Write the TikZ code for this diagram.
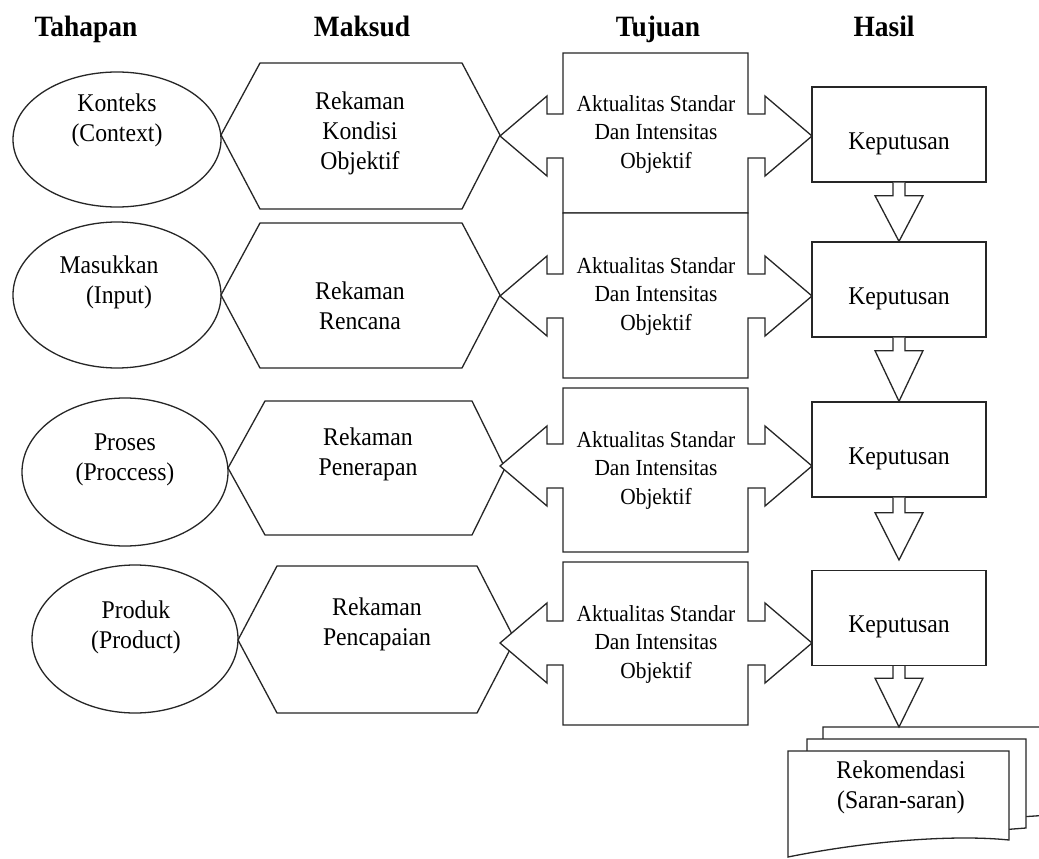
\documentclass[tikz,border=0pt]{standalone}
\usepackage{fontspec}
\setmainfont{Liberation Serif}[FakeStretch=0.93]
\usetikzlibrary{calc,shapes.geometric}
\newcommand{\tujshape}[5]{% top, bottom, centre y, name, text y
  \draw[ln, fill=white] (563,#1) -- (748,#1) -- (748,#3-22) -- (765,#3-22) -- (765,#3-40) -- (812,#3)
    -- (765,#3+40) -- (765,#3+22) -- (748,#3+22) -- (748,#2) -- (563,#2) -- (563,#3+22)
    -- (547,#3+22) -- (547,#3+40) -- (500,#3) -- (547,#3-40) -- (547,#3-22) -- (563,#3-22) -- cycle;
  \node[ttxt] (#4) at (656,#5) {Aktualitas Standar\\Dan Intensitas\\Objektif};}
\newcommand{\blkdown}[3]{% from node, tip, shaft length
  \draw[blk] ($(#1.south)+(-6,0)$) -- ($(#1.south)+(-6,#3)$) -- ($(#1.south)+(-24,#3)$) -- (#2)
    -- ($(#1.south)+(24,#3)$) -- ($(#1.south)+(6,#3)$) -- ($(#1.south)+(6,0)$);}
\begin{document}
\begin{tikzpicture}[x=1pt,y=-1pt,
  ln/.style={line width=1.3pt, draw=black!85, line join=miter},
  txt/.style={align=center, font=\fontsize{25.5}{30}\selectfont, inner sep=0pt},
  ttxt/.style={align=center, font=\fontsize{23}{28.5}\selectfont, inner sep=0pt},
  hdr/.style={font=\fontsize{29.5}{32}\selectfont\bfseries, inner sep=0pt, anchor=base},
  elp/.style={ln, ellipse, inner sep=0pt},
  kbox/.style={ln, rectangle, minimum width=174pt, minimum height=95pt, inner sep=0pt, fill=white},
  blk/.style={ln, fill=white}]
\useasboundingbox (0,0) rectangle (1039,859);
\clip (0,0) rectangle (1039,859);
\fill[white] (0,0) rectangle (1039,859);

% headers
\node[hdr] (h1) at (86,37) {Tahapan};
\node[hdr] (h2) at (362,37) {Maksud};
\node[hdr] (h3) at (658,37) {Tujuan};
\node[hdr] (h4) at (884,37) {Hasil};

% ellipses (Tahapan)
\node[elp, minimum width=208pt, minimum height=135pt] (e1) at (117,139.5) {};
\node[txt] (et1) at (117,120) {Konteks\\(Context)};
\node[elp, minimum width=208pt, minimum height=146pt] (e2) at (117,295) {};
\node[txt] (et2) at (109,282) {Masukkan\\\hspace*{20pt}(Input)};
\node[elp, minimum width=206pt, minimum height=148pt] (e3) at (125,472) {};
\node[txt] (et3) at (125,460) {Proses\\(Proccess)};
\node[elp, minimum width=206pt, minimum height=148pt] (e4) at (135,639) {};
\node[txt] (et4) at (136,627) {Produk\\(Product)};

% hexagons (Maksud)
\draw[ln] (221,135) -- (260,63) -- (462,63) -- (500,135) -- (462,209) -- (260,209) -- cycle;
\node[txt] (m1) at (360,133) {Rekaman\\Kondisi\\Objektif};
\draw[ln] (221,295) -- (260,223) -- (462,223) -- (500,295) -- (462,368) -- (260,368) -- cycle;
\node[txt] (m2) at (360,306) {Rekaman\\Rencana};
\draw[ln] (228,468) -- (265,401) -- (472,401) -- (505,468) -- (472,535) -- (265,535) -- cycle;
\node[txt] (m3) at (368,454) {Rekaman\\Penerapan};
\draw[ln] (238,640) -- (277,566) -- (477,566) -- (515,640) -- (477,713) -- (277,713) -- cycle;
\node[txt] (m4) at (377,624) {Rekaman\\Pencapaian};

% Tujuan double arrows
\tujshape{53}{213}{136}{t1}{134}
\tujshape{213}{378}{296}{t2}{296}
\tujshape{388}{552}{466}{t3}{470}
\tujshape{562}{725}{643}{t4}{644}

% Keputusan boxes
\node[kbox] (k1) at (899,134.5) {};
\node[txt] (kt1) at (899,144) {Keputusan};
\node[kbox] (k2) at (899,289.5) {};
\node[txt] (kt2) at (899,299) {Keputusan};
\node[kbox] (k3) at (899,449.5) {};
\node[txt] (kt3) at (899,459) {Keputusan};
\node[kbox] (k4) at (899,618) {};
\node[txt] (kt4) at (899,627) {Keputusan};

% multi-document
\draw[ln, fill=white] (823,727) -- (1050,727) -- (1050,815) -- (823,830) -- cycle;
\draw[ln, fill=white] (807,739) -- (1026,739) -- (1026,828) -- (807,845) -- cycle;
\draw[ln, fill=white] (788,751) -- (1009,751) -- (1009,840)
  .. controls (950,834) and (862,842) .. (788,857) -- cycle;
\coordinate (doctop) at (899,727);
\node[txt] (rek) at (901,787) {Rekomendasi\\(Saran-saran)};

% down block arrows
\coordinate (tip3) at (899,560);
\blkdown{k1}{k2.north}{13}
\blkdown{k2}{k3.north}{13}
\blkdown{k3}{tip3}{15}
\blkdown{k4}{doctop}{12}
\end{tikzpicture}
\end{document}
